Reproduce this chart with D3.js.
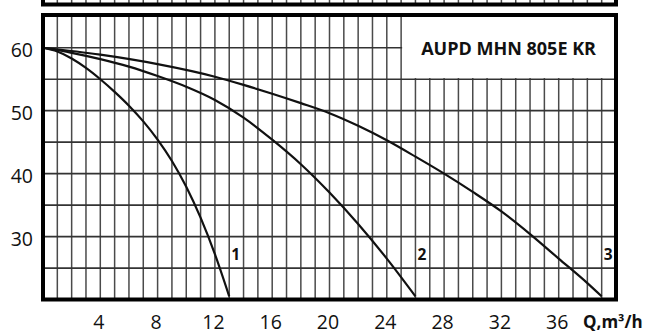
<!DOCTYPE html>
<html>
<head>
<meta charset="utf-8">
<script src="https://cdn.jsdelivr.net/npm/d3@7"></script>
<style>
  body { margin: 0; background: #fff; }
  svg { display: block; }
  text { font-family: "Open Sans", "Noto Sans", sans-serif; fill: #111; }
</style>
</head>
<body>
<svg id="chart" width="646" height="334"></svg>
<script>
// Flow axis (m³/h) and head axis (m)
const qTicks = [4, 8, 12, 16, 20, 24, 28, 32, 36];
const hTicks = [30, 40, 50, 60];
const qDomain = [0, 40];
const hDomain = [20, 65];

// Pump curves: [Q, H]
const curve1 = [[0, 60], [1, 59.4], [2, 58.3], [3, 56.8], [4, 55], [5, 53], [6, 50.8], [7, 48.3],
  [8, 45.4], [9, 42], [10, 37.9], [11, 33], [12, 27.2], [13, 20.5]];
const curve2 = [[0, 60], [2, 59.2], [4, 58.2], [6, 57], [8, 55.5], [10, 53.8], [12, 51.7], [14, 48.9],
  [16, 45.4], [18, 41.5], [20, 37], [22, 32], [24, 26.5], [26, 20.5]];
const curve3 = [[0, 60], [4, 58.9], [8, 57.4], [12, 55.4], [14, 54.1], [16, 52.7], [18, 51.2], [20, 49.6],
  [22, 47.6], [24, 45.3], [26, 42.7], [28, 40], [30, 37.1], [32, 34], [34, 30.4], [36, 26.5],
  [38, 22.6], [39, 20.5]];
const curves = [curve1, curve2, curve3];
const curveNames = ["1", "2", "3"];

const title = "AUPD MHN 805E KR";
const unitLabel = "Q,m³/h";

const svg = d3.select("#chart");

const x = d3.scaleLinear().domain(qDomain).range([43, 616]);
const y = d3.scaleLinear().domain(hDomain).range([299.5, 16.3]);

const qGrid = d3.range(1, 40);
const hGrid = d3.range(25, 61, 5);

// Bottom edge of the chart above this one
const upper = svg.append("g");
upper.selectAll("line.v").data(qGrid).join("line")
  .attr("x1", d => x(d)).attr("x2", d => x(d))
  .attr("y1", -2).attr("y2", 4.5)
  .attr("stroke", "#4a4a4a").attr("stroke-width", 1.5);
upper.append("path")
  .attr("d", `M${x(0)},-4V4.5H${x(40)}V-4`)
  .attr("fill", "none").attr("stroke", "#000").attr("stroke-width", 4);

// Grid
const grid = svg.append("g");
grid.selectAll("line.v").data(qGrid).join("line")
  .attr("class", "v")
  .attr("x1", d => x(d)).attr("x2", d => x(d))
  .attr("y1", y(hDomain[1])).attr("y2", y(hDomain[0]))
  .attr("stroke", "#4a4a4a").attr("stroke-width", 1.5);
grid.selectAll("line.h").data(hGrid).join("line")
  .attr("class", "h")
  .attr("x1", x(qDomain[0])).attr("x2", x(qDomain[1]))
  .attr("y1", d => y(d)).attr("y2", d => y(d))
  .attr("stroke", "#333").attr("stroke-width", 1.7);

// Title panel in the top-right corner
svg.append("rect")
  .attr("x", x(25) + 1).attr("y", y(65))
  .attr("width", x(40) - x(25) - 1).attr("height", y(55) - y(65) - 1.2)
  .attr("fill", "#fff");
svg.append("text")
  .attr("x", x(25) + 20).attr("y", y(60) + 7.5)
  .attr("font-size", 18).attr("font-weight", 700)
  .text(title);

// Curves
const line = d3.line()
  .x(d => x(d[0])).y(d => y(d[1]))
  .curve(d3.curveMonotoneX);
svg.append("g").selectAll("path").data(curves).join("path")
  .attr("d", line)
  .attr("fill", "none").attr("stroke", "#111").attr("stroke-width", 2.2);

// Curve numbers next to each curve end
svg.append("g").selectAll("text").data(curves).join("text")
  .attr("x", d => x(d[d.length - 1][0] + 0.45))
  .attr("y", y(26.3))
  .attr("text-anchor", "middle")
  .attr("font-size", 15.5).attr("font-weight", 700)
  .text((d, i) => curveNames[i]);

// Frame
svg.append("rect")
  .attr("x", x(0)).attr("y", y(hDomain[1]) - 1.3)
  .attr("width", x(40) - x(0)).attr("height", y(hDomain[0]) - y(hDomain[1]) + 1.3)
  .attr("fill", "none").attr("stroke", "#000").attr("stroke-width", 4);

// Tick labels
svg.append("g").selectAll("text").data(qTicks).join("text")
  .attr("x", d => x(d) - 1.5).attr("y", 329)
  .attr("text-anchor", "middle")
  .attr("font-size", 19.5)
  .text(d => d);
svg.append("g").selectAll("text").data(hTicks).join("text")
  .attr("x", 33).attr("y", d => y(d) + 9)
  .attr("text-anchor", "end")
  .attr("font-size", 19.5)
  .text(d => d);

svg.append("text")
  .attr("x", 583).attr("y", 328)
  .attr("font-size", 17).attr("font-weight", 700)
  .text(unitLabel);
</script>
</body>
</html>
